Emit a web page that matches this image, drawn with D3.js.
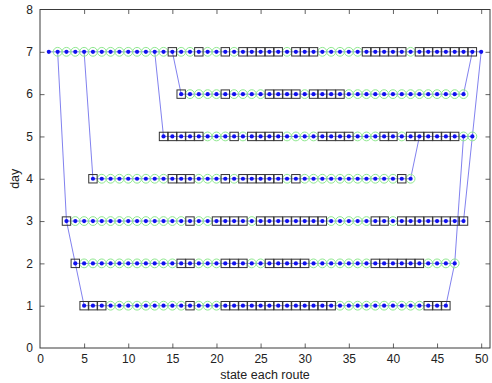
<!DOCTYPE html>
<html>
<head>
<meta charset="utf-8">
<script src="https://cdn.jsdelivr.net/npm/d3@7"></script>
<style>
  html, body { margin: 0; padding: 0; background: #fff; }
  svg { display: block; }
  text { font-family: "Liberation Sans", Arial, sans-serif; }
</style>
</head>
<body>
<svg id="chart" width="492" height="383"></svg>
<script>
// ---- data ----
const xTicks = [0, 5, 10, 15, 20, 25, 30, 35, 40, 45, 50];
const yTicks = [0, 1, 2, 3, 4, 5, 6, 7, 8];
const xLabel = "state each route";
const yLabel = "day";

// each row: day, first state, last state
const rowDay   = [1, 2, 3, 4, 5, 6, 7];
const rowStart = [5, 4, 3, 6, 14, 16, 1];
const rowEnd   = [46, 47, 48, 42, 49, 48, 50];

// states marked with a black square on each row (others carry a green circle)
const squares1 = [5, 6, 7, 17, 21, 22, 23, 24, 25, 26, 27, 28, 29, 30, 31, 32, 33, 44, 45, 46];
const squares2 = [4, 16, 17, 21, 22, 23, 26, 27, 28, 29, 30, 38, 39, 40, 41, 42, 43];
const squares3 = [3, 17, 20, 21, 22, 23, 25, 26, 27, 28, 29, 30, 31, 32, 38, 39, 41, 42, 43, 44, 45, 46, 47, 48];
const squares4 = [6, 15, 16, 17, 21, 23, 24, 25, 26, 27, 29, 41];
const squares5 = [14, 15, 16, 17, 18, 22, 24, 25, 26, 27, 32, 33, 34, 35, 39, 40, 42, 43, 44, 45, 46, 47];
const squares6 = [16, 21, 26, 27, 28, 29, 31, 32, 33, 34];
const squares7 = [15, 18, 21, 23, 24, 25, 26, 27, 29, 30, 31, 37, 38, 39, 40, 41, 43, 44, 45, 46, 47, 48, 49];
// states with only a dot (no circle, no square)
const plain7 = [1, 50];

// connecting segments between rows: [state, day] -> [state, day]
const links = [
  [[2, 7], [3, 3]], [[3, 3], [4, 2]], [[4, 2], [5, 1]],
  [[5, 7], [6, 4]], [[13, 7], [14, 5]], [[15, 7], [16, 6]],
  [[46, 1], [47, 2]], [[47, 2], [48, 5]], [[48, 3], [49, 5]], [[49, 5], [50, 7]],
  [[42, 4], [43, 5]], [[48, 6], [49, 7]]
];

// ---- build ----
const squaresByRow = [squares1, squares2, squares3, squares4, squares5, squares6, squares7];
const plainByRow = [[], [], [], [], [], [], plain7];
const points = [];
rowDay.forEach((d, i) => {
  for (let s = rowStart[i]; s <= rowEnd[i]; s++) {
    let kind = "circle";
    if (squaresByRow[i].includes(s)) kind = "square";
    if (plainByRow[i].includes(s)) kind = "plain";
    points.push({ s, d, kind });
  }
});

const svg = d3.select("#chart");
const L = 40, R = 490, T = 9.5, B = 348;
const x = d3.scaleLinear().domain([0, 51]).range([L, R]);
const y = d3.scaleLinear().domain([0, 8]).range([B, T]);

const axisColor = "#3a3a3a";
const tickLen = 4.5;

// axes with inward ticks
const gx = svg.append("g").attr("transform", `translate(0,${B})`)
  .call(d3.axisBottom(x).tickValues(xTicks).tickSize(-tickLen).tickPadding(6).tickFormat(d3.format("d")));
const gxTop = svg.append("g").attr("transform", `translate(0,${T})`)
  .call(d3.axisTop(x).tickValues(xTicks).tickSize(-tickLen).tickFormat(""));
const gy = svg.append("g").attr("transform", `translate(${L},0)`)
  .call(d3.axisLeft(y).tickValues(yTicks).tickSize(-tickLen).tickPadding(7).tickFormat(d3.format("d")));
const gyR = svg.append("g").attr("transform", `translate(${R},0)`)
  .call(d3.axisRight(y).tickValues(yTicks).tickSize(-tickLen).tickFormat(""));

[gx, gxTop, gy, gyR].forEach(g => {
  g.select(".domain").remove();
  g.selectAll(".tick line").attr("stroke", axisColor).attr("stroke-width", 0.8);
  g.selectAll(".tick text").attr("fill", "#222").attr("font-size", 12)
    .attr("font-family", '"Liberation Sans", Arial, sans-serif');
});
// hide the ticks that coincide with the box edges
gy.selectAll(".tick").filter(d => d === 0 || d === 8).select("line").remove();
gyR.selectAll(".tick").filter(d => d === 0 || d === 8).select("line").remove();
gx.selectAll(".tick").filter(d => d === 0).select("line").remove();
gxTop.selectAll(".tick").filter(d => d === 0).select("line").remove();

svg.append("rect").attr("x", L).attr("y", T).attr("width", R - L).attr("height", B - T)
  .attr("fill", "none").attr("stroke", axisColor).attr("stroke-width", 1);

// axis labels
svg.append("text").attr("x", (L + R) / 2).attr("y", 379).attr("text-anchor", "middle")
  .attr("font-size", 12.5).attr("fill", "#222").text(xLabel);
svg.append("text").attr("transform", `translate(19,${(T + B) / 2}) rotate(-90)`)
  .attr("text-anchor", "middle").attr("font-size", 12.5).attr("fill", "#222").text(yLabel);

const lineColor = "#4a4ae6";
// row lines
rowDay.forEach((d, i) => {
  svg.append("line").attr("x1", x(rowStart[i])).attr("x2", x(rowEnd[i]))
    .attr("y1", y(d)).attr("y2", y(d)).attr("stroke", lineColor).attr("stroke-width", 0.7);
});
// link lines
svg.selectAll(".link").data(links).join("line").attr("class", "link")
  .attr("x1", d => x(d[0][0])).attr("y1", d => y(d[0][1]))
  .attr("x2", d => x(d[1][0])).attr("y2", d => y(d[1][1]))
  .attr("stroke", lineColor).attr("stroke-width", 0.7);

// green circles
svg.selectAll(".gc").data(points.filter(p => p.kind === "circle")).join("circle").attr("class", "gc")
  .attr("cx", p => x(p.s)).attr("cy", p => y(p.d)).attr("r", 4.4)
  .attr("fill", "none").attr("stroke", "#8fe88f").attr("stroke-width", 1);
// black squares
const sq = 8.4;
svg.selectAll(".bs").data(points.filter(p => p.kind === "square")).join("rect").attr("class", "bs")
  .attr("x", p => x(p.s) - sq / 2).attr("y", p => y(p.d) - sq / 2).attr("width", sq).attr("height", sq)
  .attr("fill", "none").attr("stroke", "#333").attr("stroke-width", 1);
// blue dots
svg.selectAll(".bd").data(points).join("circle").attr("class", "bd")
  .attr("cx", p => x(p.s)).attr("cy", p => y(p.d)).attr("r", 2.1)
  .attr("fill", "#1010ee");
</script>
</body>
</html>
